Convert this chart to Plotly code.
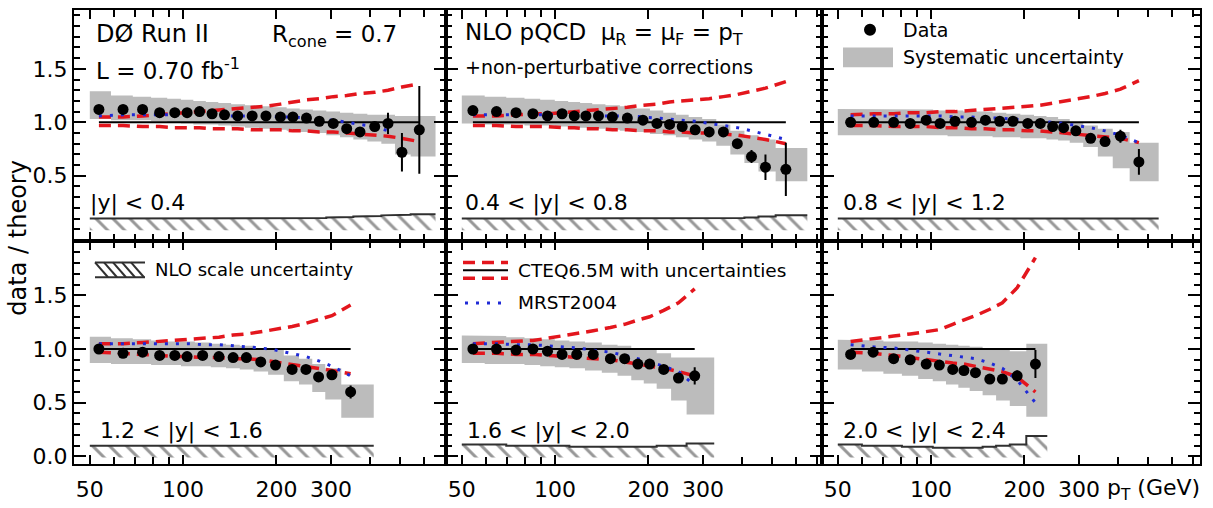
import math
import plotly.graph_objects as go

W, H = 1213, 508
FONT = "DejaVu Sans"

# ---------------- data ----------------
# common bin start (GeV) and last bin edge of each rapidity panel
band_start = [50, 50, 50, 50, 50, 50]
band_end = [652, 651, 542, 412, 326, 237]

# |y| < 0.4
pt_1 = [53.5, 64, 74, 84, 94, 103, 113, 124, 136, 150, 167, 185, 206, 226, 250, 275, 305, 337, 372, 415, 458, 508, 578]
ratio_1 = [1.12, 1.12, 1.12, 1.09, 1.09, 1.09, 1.10, 1.08, 1.07, 1.06, 1.06, 1.06, 1.05, 1.05, 1.04, 1.01, 0.99, 0.94, 0.91, 0.96, 0.99, 0.72, 0.93]
stat_1 = [0.01, 0.01, 0.01, 0.01, 0.01, 0.01, 0.01, 0.01, 0.01, 0.01, 0.01, 0.01, 0.01, 0.01, 0.01, 0.01, 0.01, 0.02, 0.02, 0.04, 0.10, 0.18, 0.41]
sys_hi_1 = [1.29, 1.25, 1.24, 1.23, 1.22, 1.21, 1.20, 1.19, 1.18, 1.17, 1.16, 1.15, 1.14, 1.13, 1.12, 1.11, 1.10, 1.09, 1.08, 1.07, 1.07, 1.06, 1.06]
sys_lo_1 = [1.03, 1.02, 1.02, 1.01, 1.00, 0.99, 0.98, 0.98, 0.97, 0.96, 0.95, 0.94, 0.93, 0.92, 0.91, 0.90, 0.88, 0.86, 0.84, 0.82, 0.80, 0.70, 0.68]
cteq_up_1 = [1.05, 1.05, 1.06, 1.07, 1.08, 1.09, 1.10, 1.11, 1.12, 1.13, 1.14, 1.15, 1.17, 1.19, 1.21, 1.22, 1.24, 1.25, 1.27, 1.28, 1.30, 1.33, 1.36]
cteq_dn_1 = [0.97, 0.97, 0.96, 0.96, 0.95, 0.95, 0.95, 0.94, 0.94, 0.94, 0.93, 0.93, 0.93, 0.92, 0.92, 0.91, 0.91, 0.90, 0.89, 0.88, 0.87, 0.85, 0.82]
mrst_1 = [1.06, 1.07, 1.07, 1.07, 1.07, 1.07, 1.07, 1.06, 1.06, 1.06, 1.06, 1.06, 1.05, 1.05, 1.04, 1.03, 1.02, 1.00, 0.98, 0.96, 0.92, None, None]
scale_1 = [0.10, 0.10, 0.10, 0.10, 0.10, 0.10, 0.10, 0.10, 0.10, 0.10, 0.10, 0.10, 0.10, 0.10, 0.10, 0.105, 0.11, 0.115, 0.12, 0.125, 0.13, 0.135, 0.14]

# 0.4 < |y| < 0.8
pt_2 = [54.3, 64.7, 74.8, 84.8, 94.5, 105.3, 115.3, 125.7, 138, 153, 171, 192, 213, 234, 257, 283, 314, 349, 387, 430, 477, 555]
ratio_2 = [1.11, 1.10, 1.09, 1.08, 1.06, 1.08, 1.06, 1.06, 1.06, 1.05, 1.04, 1.02, 0.99, 0.98, 0.96, 0.93, 0.91, 0.91, 0.80, 0.68, 0.58, 0.56]
stat_2 = [0.01, 0.01, 0.01, 0.01, 0.01, 0.01, 0.01, 0.01, 0.01, 0.01, 0.01, 0.01, 0.01, 0.01, 0.01, 0.01, 0.01, 0.02, 0.03, 0.06, 0.12, 0.25]
sys_hi_2 = [1.25, 1.24, 1.23, 1.22, 1.21, 1.20, 1.19, 1.18, 1.17, 1.16, 1.15, 1.13, 1.11, 1.09, 1.07, 1.05, 1.03, 0.98, 0.92, 0.88, 0.84, 0.76]
sys_lo_2 = [0.99, 0.98, 0.98, 0.97, 0.97, 0.96, 0.95, 0.95, 0.94, 0.93, 0.92, 0.91, 0.89, 0.88, 0.86, 0.84, 0.82, 0.78, 0.70, 0.62, 0.54, 0.45]
cteq_up_2 = [1.06, 1.06, 1.07, 1.08, 1.08, 1.09, 1.10, 1.11, 1.12, 1.13, 1.14, 1.16, 1.17, 1.19, 1.20, 1.21, 1.22, 1.24, 1.26, 1.29, 1.32, 1.38]
cteq_dn_2 = [0.97, 0.97, 0.96, 0.96, 0.96, 0.95, 0.95, 0.94, 0.94, 0.93, 0.93, 0.92, 0.92, 0.91, 0.91, 0.90, 0.90, 0.89, 0.88, 0.86, 0.84, 0.80]
mrst_2 = [1.07, 1.07, 1.07, 1.07, 1.07, 1.07, 1.07, 1.06, 1.06, 1.06, 1.06, 1.05, 1.04, 1.03, 1.02, 1.01, 0.99, 0.97, 0.95, 0.92, 0.89, 0.84]
scale_2 = [0.10, 0.10, 0.10, 0.10, 0.10, 0.10, 0.10, 0.10, 0.10, 0.10, 0.10, 0.10, 0.10, 0.10, 0.10, 0.10, 0.10, 0.10, 0.105, 0.11, 0.12, 0.13]

# 0.8 < |y| < 1.2
pt_3 = [55, 65.3, 75.7, 85.6, 96.4, 106.9, 119.4, 135, 149.7, 166.4, 183.6, 205, 225, 246.6, 267.5, 293, 327, 364, 408, 468]
ratio_3 = [1.00, 1.00, 1.00, 0.99, 1.02, 0.99, 1.01, 1.00, 1.02, 1.01, 1.01, 0.99, 0.99, 0.96, 0.95, 0.92, 0.85, 0.82, 0.87, 0.63]
stat_3 = [0.01, 0.01, 0.01, 0.01, 0.01, 0.01, 0.01, 0.01, 0.01, 0.01, 0.01, 0.01, 0.01, 0.01, 0.01, 0.01, 0.02, 0.02, 0.06, 0.12]
sys_hi_3 = [1.125, 1.125, 1.12, 1.12, 1.12, 1.11, 1.11, 1.10, 1.10, 1.09, 1.08, 1.07, 1.06, 1.05, 1.03, 1.00, 0.97, 0.94, 0.91, 0.81]
sys_lo_3 = [0.88, 0.88, 0.88, 0.88, 0.88, 0.88, 0.87, 0.87, 0.87, 0.86, 0.86, 0.85, 0.85, 0.84, 0.83, 0.81, 0.77, 0.68, 0.57, 0.45]
cteq_up_3 = [1.07, 1.08, 1.08, 1.09, 1.09, 1.10, 1.10, 1.11, 1.12, 1.13, 1.14, 1.15, 1.16, 1.18, 1.19, 1.21, 1.24, 1.27, 1.31, 1.39]
cteq_dn_3 = [0.97, 0.97, 0.96, 0.96, 0.96, 0.95, 0.95, 0.94, 0.94, 0.93, 0.93, 0.92, 0.92, 0.91, 0.90, 0.89, 0.87, 0.86, 0.85, 0.81]
mrst_3 = [1.06, 1.06, 1.06, 1.06, 1.06, 1.06, 1.05, 1.05, 1.04, 1.04, 1.03, 1.02, 1.01, 1.00, 0.99, 0.97, 0.95, 0.92, 0.88, 0.81]
scale_3 = [0.10, 0.10, 0.10, 0.10, 0.10, 0.10, 0.10, 0.10, 0.10, 0.10, 0.10, 0.10, 0.10, 0.10, 0.10, 0.10, 0.10, 0.10, 0.10, 0.10]

# 1.2 < |y| < 1.6
pt_4 = [53.5, 64, 74, 84, 94, 103, 115.6, 130.5, 145, 160, 178, 198.6, 224.7, 249, 273.5, 302, 347]
ratio_4 = [1.00, 0.96, 0.97, 0.94, 0.94, 0.93, 0.94, 0.93, 0.92, 0.92, 0.88, 0.85, 0.81, 0.81, 0.74, 0.76, 0.60]
stat_4 = [0.01, 0.01, 0.01, 0.01, 0.01, 0.01, 0.01, 0.01, 0.01, 0.01, 0.01, 0.01, 0.01, 0.02, 0.02, 0.03, 0.06]
sys_hi_4 = [1.115, 1.10, 1.09, 1.08, 1.07, 1.07, 1.06, 1.05, 1.04, 1.03, 1.01, 0.99, 0.94, 0.91, 0.86, 0.82, 0.67]
sys_lo_4 = [0.87, 0.86, 0.86, 0.85, 0.85, 0.84, 0.84, 0.83, 0.82, 0.81, 0.79, 0.76, 0.70, 0.67, 0.60, 0.53, 0.36]
cteq_up_4 = [1.05, 1.05, 1.06, 1.07, 1.08, 1.09, 1.10, 1.11, 1.13, 1.14, 1.16, 1.18, 1.21, 1.24, 1.27, 1.31, 1.41]
cteq_dn_4 = [0.97, 0.96, 0.95, 0.94, 0.93, 0.93, 0.92, 0.92, 0.91, 0.91, 0.90, 0.88, 0.86, 0.84, 0.82, 0.80, 0.77]
mrst_4 = [1.05, 1.05, 1.05, 1.05, 1.05, 1.05, 1.04, 1.04, 1.03, 1.02, 1.01, 0.99, 0.96, 0.93, 0.89, 0.84, 0.75]
scale_4 = [0.10, 0.10, 0.10, 0.10, 0.10, 0.10, 0.10, 0.10, 0.10, 0.10, 0.10, 0.10, 0.10, 0.10, 0.10, 0.10, 0.10]

# 1.6 < |y| < 2.0
pt_5 = [54.3, 64.7, 74.8, 84.8, 94.5, 105.3, 117.4, 132.7, 150.8, 167.6, 184.9, 201.8, 224, 250, 282]
ratio_5 = [1.00, 1.00, 0.99, 1.00, 0.98, 0.95, 0.95, 0.95, 0.91, 0.91, 0.86, 0.86, 0.81, 0.73, 0.75]
stat_5 = [0.01, 0.01, 0.01, 0.01, 0.01, 0.01, 0.01, 0.01, 0.01, 0.01, 0.01, 0.02, 0.02, 0.04, 0.08]
sys_hi_5 = [1.125, 1.12, 1.11, 1.10, 1.09, 1.08, 1.07, 1.06, 1.04, 1.03, 1.01, 0.99, 0.96, 0.92, 0.92]
sys_lo_5 = [0.87, 0.86, 0.86, 0.85, 0.84, 0.83, 0.82, 0.80, 0.78, 0.75, 0.71, 0.68, 0.63, 0.52, 0.39]
cteq_up_5 = [1.05, 1.06, 1.07, 1.08, 1.10, 1.12, 1.14, 1.17, 1.20, 1.23, 1.27, 1.30, 1.36, 1.43, 1.56]
cteq_dn_5 = [0.96, 0.96, 0.95, 0.95, 0.94, 0.93, 0.92, 0.91, 0.90, 0.88, 0.86, 0.84, 0.82, 0.79, 0.75]
mrst_5 = [1.05, 1.05, 1.04, 1.04, 1.03, 1.02, 1.01, 0.99, 0.97, 0.94, 0.91, 0.88, 0.84, 0.79, 0.66]
scale_5 = [0.11, 0.11, 0.10, 0.10, 0.10, 0.10, 0.09, 0.09, 0.09, 0.09, 0.09, 0.09, 0.10, 0.10, 0.12]

# 2.0 < |y| < 2.4
pt_6 = [55, 65, 75.7, 85.6, 96.4, 106.3, 117.4, 127.6, 139, 154.6, 169.8, 189.5, 217]
ratio_6 = [0.95, 0.97, 0.91, 0.90, 0.86, 0.85, 0.81, 0.80, 0.78, 0.72, 0.72, 0.75, 0.86]
stat_6 = [0.01, 0.01, 0.01, 0.01, 0.01, 0.01, 0.01, 0.01, 0.01, 0.02, 0.02, 0.05, 0.13]
sys_hi_6 = [1.085, 1.08, 1.07, 1.07, 1.06, 1.05, 1.04, 1.03, 1.02, 1.00, 0.99, 0.98, 1.05]
sys_lo_6 = [0.81, 0.79, 0.77, 0.75, 0.72, 0.70, 0.67, 0.64, 0.61, 0.57, 0.52, 0.47, 0.37]
cteq_up_6 = [1.07, 1.10, 1.12, 1.14, 1.16, 1.18, 1.23, 1.27, 1.31, 1.37, 1.43, 1.57, 1.85]
cteq_dn_6 = [0.97, 0.96, 0.94, 0.92, 0.90, 0.88, 0.87, 0.86, 0.84, 0.82, 0.79, 0.74, 0.60]
mrst_6 = [1.04, 1.02, 1.01, 0.99, 0.97, 0.96, 0.94, 0.93, 0.91, 0.87, 0.82, 0.71, 0.50]
scale_6 = [0.11, 0.10, 0.10, 0.09, 0.09, 0.08, 0.08, 0.08, 0.08, 0.09, 0.10, 0.11, 0.19]

rapidity_labels = ["|y| < 0.4", "0.4 < |y| < 0.8", "0.8 < |y| < 1.2",
                   "1.2 < |y| < 1.6", "1.6 < |y| < 2.0", "2.0 < |y| < 2.4"]
legend_labels = ["Data", "Systematic uncertainty", "NLO scale uncertainty",
                 "CTEQ6.5M with uncertainties", "MRST2004"]
x_tickvals = [50, 100, 200, 300]
x_ticktext = ["50", "100", "200", "300"]
x_minor = [60, 70, 80, 90, 400, 500, 600, 700]

panels = [
    (pt_1, ratio_1, stat_1, sys_lo_1, sys_hi_1, cteq_up_1, cteq_dn_1, mrst_1, scale_1),
    (pt_2, ratio_2, stat_2, sys_lo_2, sys_hi_2, cteq_up_2, cteq_dn_2, mrst_2, scale_2),
    (pt_3, ratio_3, stat_3, sys_lo_3, sys_hi_3, cteq_up_3, cteq_dn_3, mrst_3, scale_3),
    (pt_4, ratio_4, stat_4, sys_lo_4, sys_hi_4, cteq_up_4, cteq_dn_4, mrst_4, scale_4),
    (pt_5, ratio_5, stat_5, sys_lo_5, sys_hi_5, cteq_up_5, cteq_dn_5, mrst_5, scale_5),
    (pt_6, ratio_6, stat_6, sys_lo_6, sys_hi_6, cteq_up_6, cteq_dn_6, mrst_6, scale_6),
]

# ---------------- layout geometry (pixels) ----------------
COLS = [(74, 446), (446, 822), (822, 1200)]
ROWS = [(10, 243), (243, 469)]
YRANGES = [[-0.106, 2.051], [-0.074, 2.009]]
LOG_X0 = 1.648
PX_PER_DECADE = 310.0

RED = "#e3161d"
BLUE = "#1f2ad6"
GREY = "#bcbcbc"
HATCH = "#303030"
RED_DASH = "12px,7px"
BLUE_DOT = "3px,8px"


def bin_edges(pt, start, end):
    mids = [math.sqrt(a * b) for a, b in zip(pt[:-1], pt[1:])]
    return [start] + mids + [end]


def steps(edges, vals):
    xs, ys = [], []
    for i, v in enumerate(vals):
        xs += [edges[i], edges[i + 1]]
        ys += [v, v]
    return xs, ys


fig = go.Figure()

for k, (pt, r, st, lo, hi, up, dn, mr, sc) in enumerate(panels, start=1):
    xa = "x" if k == 1 else f"x{k}"
    ya = "y" if k == 1 else f"y{k}"
    e = bin_edges(pt, band_start[k - 1], band_end[k - 1])

    # systematic uncertainty band (step shaped)
    xh, yh = steps(e, hi)
    xl, yl = steps(e, lo)
    fig.add_trace(go.Scatter(
        x=xh + xl[::-1], y=yh + yl[::-1], xaxis=xa, yaxis=ya,
        mode="lines", fill="toself", fillcolor=GREY, line=dict(width=0),
        name="Systematic uncertainty", hoverinfo="skip"))

    # NLO scale uncertainty (hatched)
    xs, ys = steps(e, sc)
    fig.add_trace(go.Scatter(
        x=xs + xs[::-1], y=ys + [-0.01] * len(ys), xaxis=xa, yaxis=ya,
        mode="lines", fill="toself", fillcolor="rgba(0,0,0,0)",
        fillpattern=dict(shape="\\", fgcolor=HATCH, bgcolor="rgba(0,0,0,0)",
                         size=12, solidity=0.25),
        line=dict(width=0), name="NLO scale uncertainty", hoverinfo="skip"))
    fig.add_trace(go.Scatter(
        x=xs, y=ys, xaxis=xa, yaxis=ya, mode="lines",
        line=dict(color=HATCH, width=2), hoverinfo="skip"))

    # CTEQ6.5M central (=1) and uncertainties
    fig.add_trace(go.Scatter(
        x=[pt[0], pt[-1]], y=[1.0, 1.0], xaxis=xa, yaxis=ya, mode="lines",
        line=dict(color="black", width=2), hoverinfo="skip"))
    fig.add_trace(go.Scatter(
        x=pt, y=up, xaxis=xa, yaxis=ya, mode="lines",
        line=dict(color=RED, width=3.5, dash=RED_DASH),
        name="CTEQ6.5M with uncertainties", hoverinfo="skip"))
    fig.add_trace(go.Scatter(
        x=pt, y=dn, xaxis=xa, yaxis=ya, mode="lines",
        line=dict(color=RED, width=3.5, dash=RED_DASH), hoverinfo="skip"))
    # MRST2004
    fig.add_trace(go.Scatter(
        x=pt, y=mr, xaxis=xa, yaxis=ya, mode="lines",
        line=dict(color=BLUE, width=3, dash=BLUE_DOT),
        name="MRST2004", hoverinfo="skip"))

    # data
    fig.add_trace(go.Scatter(
        x=pt, y=r, xaxis=xa, yaxis=ya, mode="markers",
        marker=dict(color="black", size=11),
        error_y=dict(type="data", array=st, color="black", thickness=2, width=0),
        name="Data", hoverinfo="skip"))

layout = dict(
    width=W, height=H, margin=dict(l=0, r=0, t=0, b=0),
    paper_bgcolor="white", plot_bgcolor="rgba(0,0,0,0)",
    font=dict(family=FONT, color="black"),
    hovermode=False, showlegend=False,
)

for k in range(1, 7):
    row = 0 if k <= 3 else 1
    col = (k - 1) % 3
    c0, c1 = COLS[col]
    r0, r1 = ROWS[row]
    xname = "xaxis" if k == 1 else f"xaxis{k}"
    yname = "yaxis" if k == 1 else f"yaxis{k}"
    layout[xname] = dict(
        type="log", domain=[c0 / W, c1 / W],
        range=[LOG_X0, LOG_X0 + (c1 - c0) / PX_PER_DECADE],
        anchor="y" if k == 1 else f"y{k}",
        showline=True, linewidth=2, linecolor="black", mirror="allticks",
        ticks="inside", ticklen=9, tickwidth=1.5, tickcolor="black",
        tickmode="array", tickvals=x_tickvals, ticktext=x_ticktext,
        showticklabels=(row == 1), ticklabelstandoff=4,
        tickfont=dict(family=FONT, size=22, color="black"),
        minor=dict(tickmode="array", tickvals=x_minor, ticks="inside",
                   ticklen=7, tickwidth=1.5, tickcolor="black"),
        showgrid=False, zeroline=False, fixedrange=True)
    if row == 0:
        yt, ytt = [0.5, 1.0, 1.5], ["0.5", "1.0", "1.5"]
    else:
        yt, ytt = [0.0, 0.5, 1.0, 1.5], ["0.0", "0.5", "1.0", "1.5"]
    layout[yname] = dict(
        domain=[1 - r1 / H, 1 - r0 / H], range=YRANGES[row],
        anchor="x" if k == 1 else f"x{k}",
        showline=True, linewidth=2, linecolor="black", mirror="allticks",
        ticks="inside", ticklen=12, tickwidth=1.5, tickcolor="black",
        tickmode="array", tickvals=yt, ticktext=ytt,
        showticklabels=(col == 0),
        tickfont=dict(family=FONT, size=22, color="black"),
        minor=dict(dtick=0.1, tick0=0, ticks="inside", ticklen=6,
                   tickwidth=1.5, tickcolor="black"),
        showgrid=False, zeroline=False, fixedrange=True)

fig.update_layout(**layout)


def px_x(v):
    return v / W


def px_y(v):
    return 1 - v / H


def ann(text, xpx, ypx, size, xanchor="left", yanchor="middle", angle=0):
    fig.add_annotation(text=text, x=px_x(xpx), y=px_y(ypx), xref="paper", yref="paper",
                       xanchor=xanchor, yanchor=yanchor, showarrow=False, textangle=angle,
                       font=dict(family=FONT, size=size, color="black"))


def pline(x0, y0, x1, y1, color, width, dash=None):
    fig.add_shape(type="line", xref="paper", yref="paper",
                  x0=px_x(x0), y0=px_y(y0), x1=px_x(x1), y1=px_y(y1),
                  line=dict(color=color, width=width, dash=dash))


# ---- panel texts ----
ann("DØ Run II", 94, 34, 24)
ann("R<sub>cone</sub> = 0.7", 270, 36, 23)
ann("L = 0.70 fb<sup>-1</sup>", 94, 70, 23)
ann("NLO pQCD  μ<sub>R</sub> = μ<sub>F</sub> = p<sub>T</sub>", 463, 34, 23)
ann("+non-perturbative corrections", 463, 68, 19)

label_pos = [(88, 205), (463, 205), (841, 205), (98, 435), (465, 435), (841, 435)]
for txt, (lx, ly) in zip(rapidity_labels, label_pos):
    ann(txt, lx, ly, 22)

ann("p<sub>T</sub> (GeV)", 1105, 494, 22)
ann("data / theory", 18, 240, 24, xanchor="center", angle=-90)

# ---- legend (keys drawn in page pixels) ----
# Data
fig.add_shape(type="circle", xref="paper", yref="paper",
              x0=px_x(864), x1=px_x(876), y0=px_y(36), y1=px_y(24),
              fillcolor="black", line=dict(color="black", width=0))
ann(legend_labels[0], 901, 30, 19)
# Systematic uncertainty
fig.add_shape(type="rect", xref="paper", yref="paper",
              x0=px_x(843), x1=px_x(893), y0=px_y(68), y1=px_y(48),
              fillcolor=GREY, line=dict(width=0))
ann(legend_labels[1], 901, 58, 19)
# NLO scale uncertainty: hatched key
pline(95, 265, 145, 265, HATCH, 2)
pline(95, 280, 145, 280, HATCH, 2)
for sx in [95, 104, 113, 122, 131]:
    pline(sx, 265, sx + 13, 280, HATCH, 2)
ann(legend_labels[2], 153, 272, 18)
# CTEQ6.5M with uncertainties
pline(463, 265, 508, 265, RED, 3.5, RED_DASH)
pline(463, 281, 508, 281, RED, 3.5, RED_DASH)
pline(463, 273, 508, 273, "black", 2)
ann(legend_labels[3], 516, 273, 18.5)
# MRST2004
pline(465, 306, 505, 306, BLUE, 3, BLUE_DOT)
ann(legend_labels[4], 516, 306, 18.5)

# the page's default 8px body margin would shift the figure; remove it
fig.write_html("out.html", post_script="document.body.style.margin='0px';",
               config={"displayModeBar": False})
